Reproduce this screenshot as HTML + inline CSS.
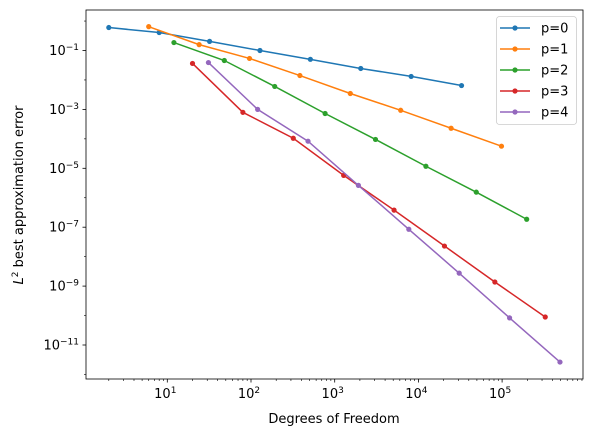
<!DOCTYPE html>
<html><head><meta charset="utf-8"><style>body{margin:0;background:#fff}svg{display:block;font-family:"DejaVu Sans","Liberation Sans",sans-serif}</style></head>
<body>
<svg id="chart" width="592" height="437"></svg>
<script>
const xTickExps=[1,2,3,4,5];
const yTickExps=[-1,-3,-5,-7,-9,-11];
const seriesNames=["p=0","p=1","p=2","p=3","p=4"];
const colors=["#1f77b4","#ff7f0e","#2ca02c","#d62728","#9467bd"];
const dof0=[2,8,32,128,512,2048,8192,32768];
const err0=[-0.22,-0.39,-0.69,-1.0,-1.3,-1.61,-1.88,-2.19];
const dof1=[6,24,96,384,1536,6144,24576,98304];
const err1=[-0.19,-0.80,-1.27,-1.85,-2.46,-3.03,-3.64,-4.25];
const dof2=[12,48,192,768,3072,12288,49152,196608];
const err2=[-0.73,-1.34,-2.22,-3.14,-4.02,-4.93,-5.81,-6.73];
const dof3=[20,80,320,1280,5120,20480,81920,327680];
const err3=[-1.44,-3.10,-3.98,-5.24,-6.42,-7.64,-8.86,-10.05];
const dof4=[31,120,480,1920,7680,30720,122880,491520];
const err4=[-1.41,-3.0,-4.08,-5.58,-7.07,-8.56,-10.08,-11.58];
const dofs=[dof0,dof1,dof2,dof3,dof4];
const errs=[err0,err1,err2,err3,err4];

const L=86,R=583,T=10,B=379;
const xs=v=>83.6+83.7*Math.log10(v);
const ys=e=>50.5-29.45*(e+1);
const svg=document.getElementById('chart');
const NS="http://www.w3.org/2000/svg";
function mk(t,a,p){const el=document.createElementNS(NS,t);for(const k in a)el.setAttribute(k,a[k]);(p||svg).appendChild(el);return el;}

for(let d=0;d<=6;d++)for(let m=2;m<=9;m++){const x=xs(m*Math.pow(10,d));if(x>L&&x<R){const t=mk('line',{x1:x,x2:x,y1:B,y2:B+2,stroke:'#000','stroke-width':0.6});

}}
for(let d=0;d<=6;d++){const x=xs(Math.pow(10,d));if(x>L&&x<R&&!xTickExps.includes(d)){const t=mk('line',{x1:x,x2:x,y1:B,y2:B+3.5,stroke:'#000','stroke-width':0.8});

}}
xTickExps.forEach(e=>{const x=xs(Math.pow(10,e));
const t=mk('line',{x1:x,x2:x,y1:B,y2:B+3.5,stroke:'#000','stroke-width':0.8});


const tx=mk('text',{x:x-2,y:B+19,'font-size':13,'text-anchor':'middle'});


tx.innerHTML='10<tspan dy="-5" font-size="9">'+e+'</tspan>';});
for(let e=0;e>=-12;e--){const y=ys(e);if(y>T&&y<B){const major=yTickExps.includes(e);
const t=mk('line',{x1:L-(major?3.5:2),x2:L,y1:y,y2:y,stroke:'#000','stroke-width':major?0.8:0.6});


if(major){const tx=mk('text',{x:L-7,y:y+4.5,'font-size':13,'text-anchor':'end'});


tx.innerHTML='10<tspan dy="-5" font-size="9">\u2212'+(-e)+'</tspan>';}}}

seriesNames.forEach((n,i)=>{const g=mk('g',{});


const pts=dofs[i].map((d,j)=>xs(d)+','+ys(errs[i][j])).join(' ');
mk('polyline',{points:pts,fill:'none',stroke:colors[i],'stroke-width':1.5},g);
dofs[i].forEach((d,j)=>{const c=mk('circle',{cx:xs(d),cy:ys(errs[i][j]),r:2.6,fill:colors[i]},g);

});});

const frame=mk('rect',{x:L,y:T,width:R-L,height:B-T,fill:'none',stroke:'#000','stroke-width':0.8});



const lg=mk('g',{});


mk('rect',{x:496.5,y:16.5,width:80,height:108,rx:3,fill:'#fff',stroke:'#ccc','stroke-width':0.8},lg);
seriesNames.forEach((n,i)=>{const y=28+21*i;const e=mk('g',{},lg);


mk('line',{x1:500,x2:530,y1:y,y2:y,stroke:colors[i],'stroke-width':1.5},e);
mk('circle',{cx:515,cy:y,r:2.6,fill:colors[i]},e);
const t=mk('text',{x:541,y:y+4.5,'font-size':13},e);t.textContent=n;});

const xl=mk('text',{x:334,y:423,'font-size':13,'text-anchor':'middle'});


xl.textContent='Degrees of Freedom';
const yl=mk('text',{x:0,y:0,'font-size':13,'text-anchor':'middle',transform:'translate(23,195) rotate(-90)'});


yl.innerHTML='<tspan font-style="italic">L</tspan><tspan dy="-5" font-size="9">2</tspan><tspan dy="5"> best approximation error</tspan>';
</script>
</body></html>
